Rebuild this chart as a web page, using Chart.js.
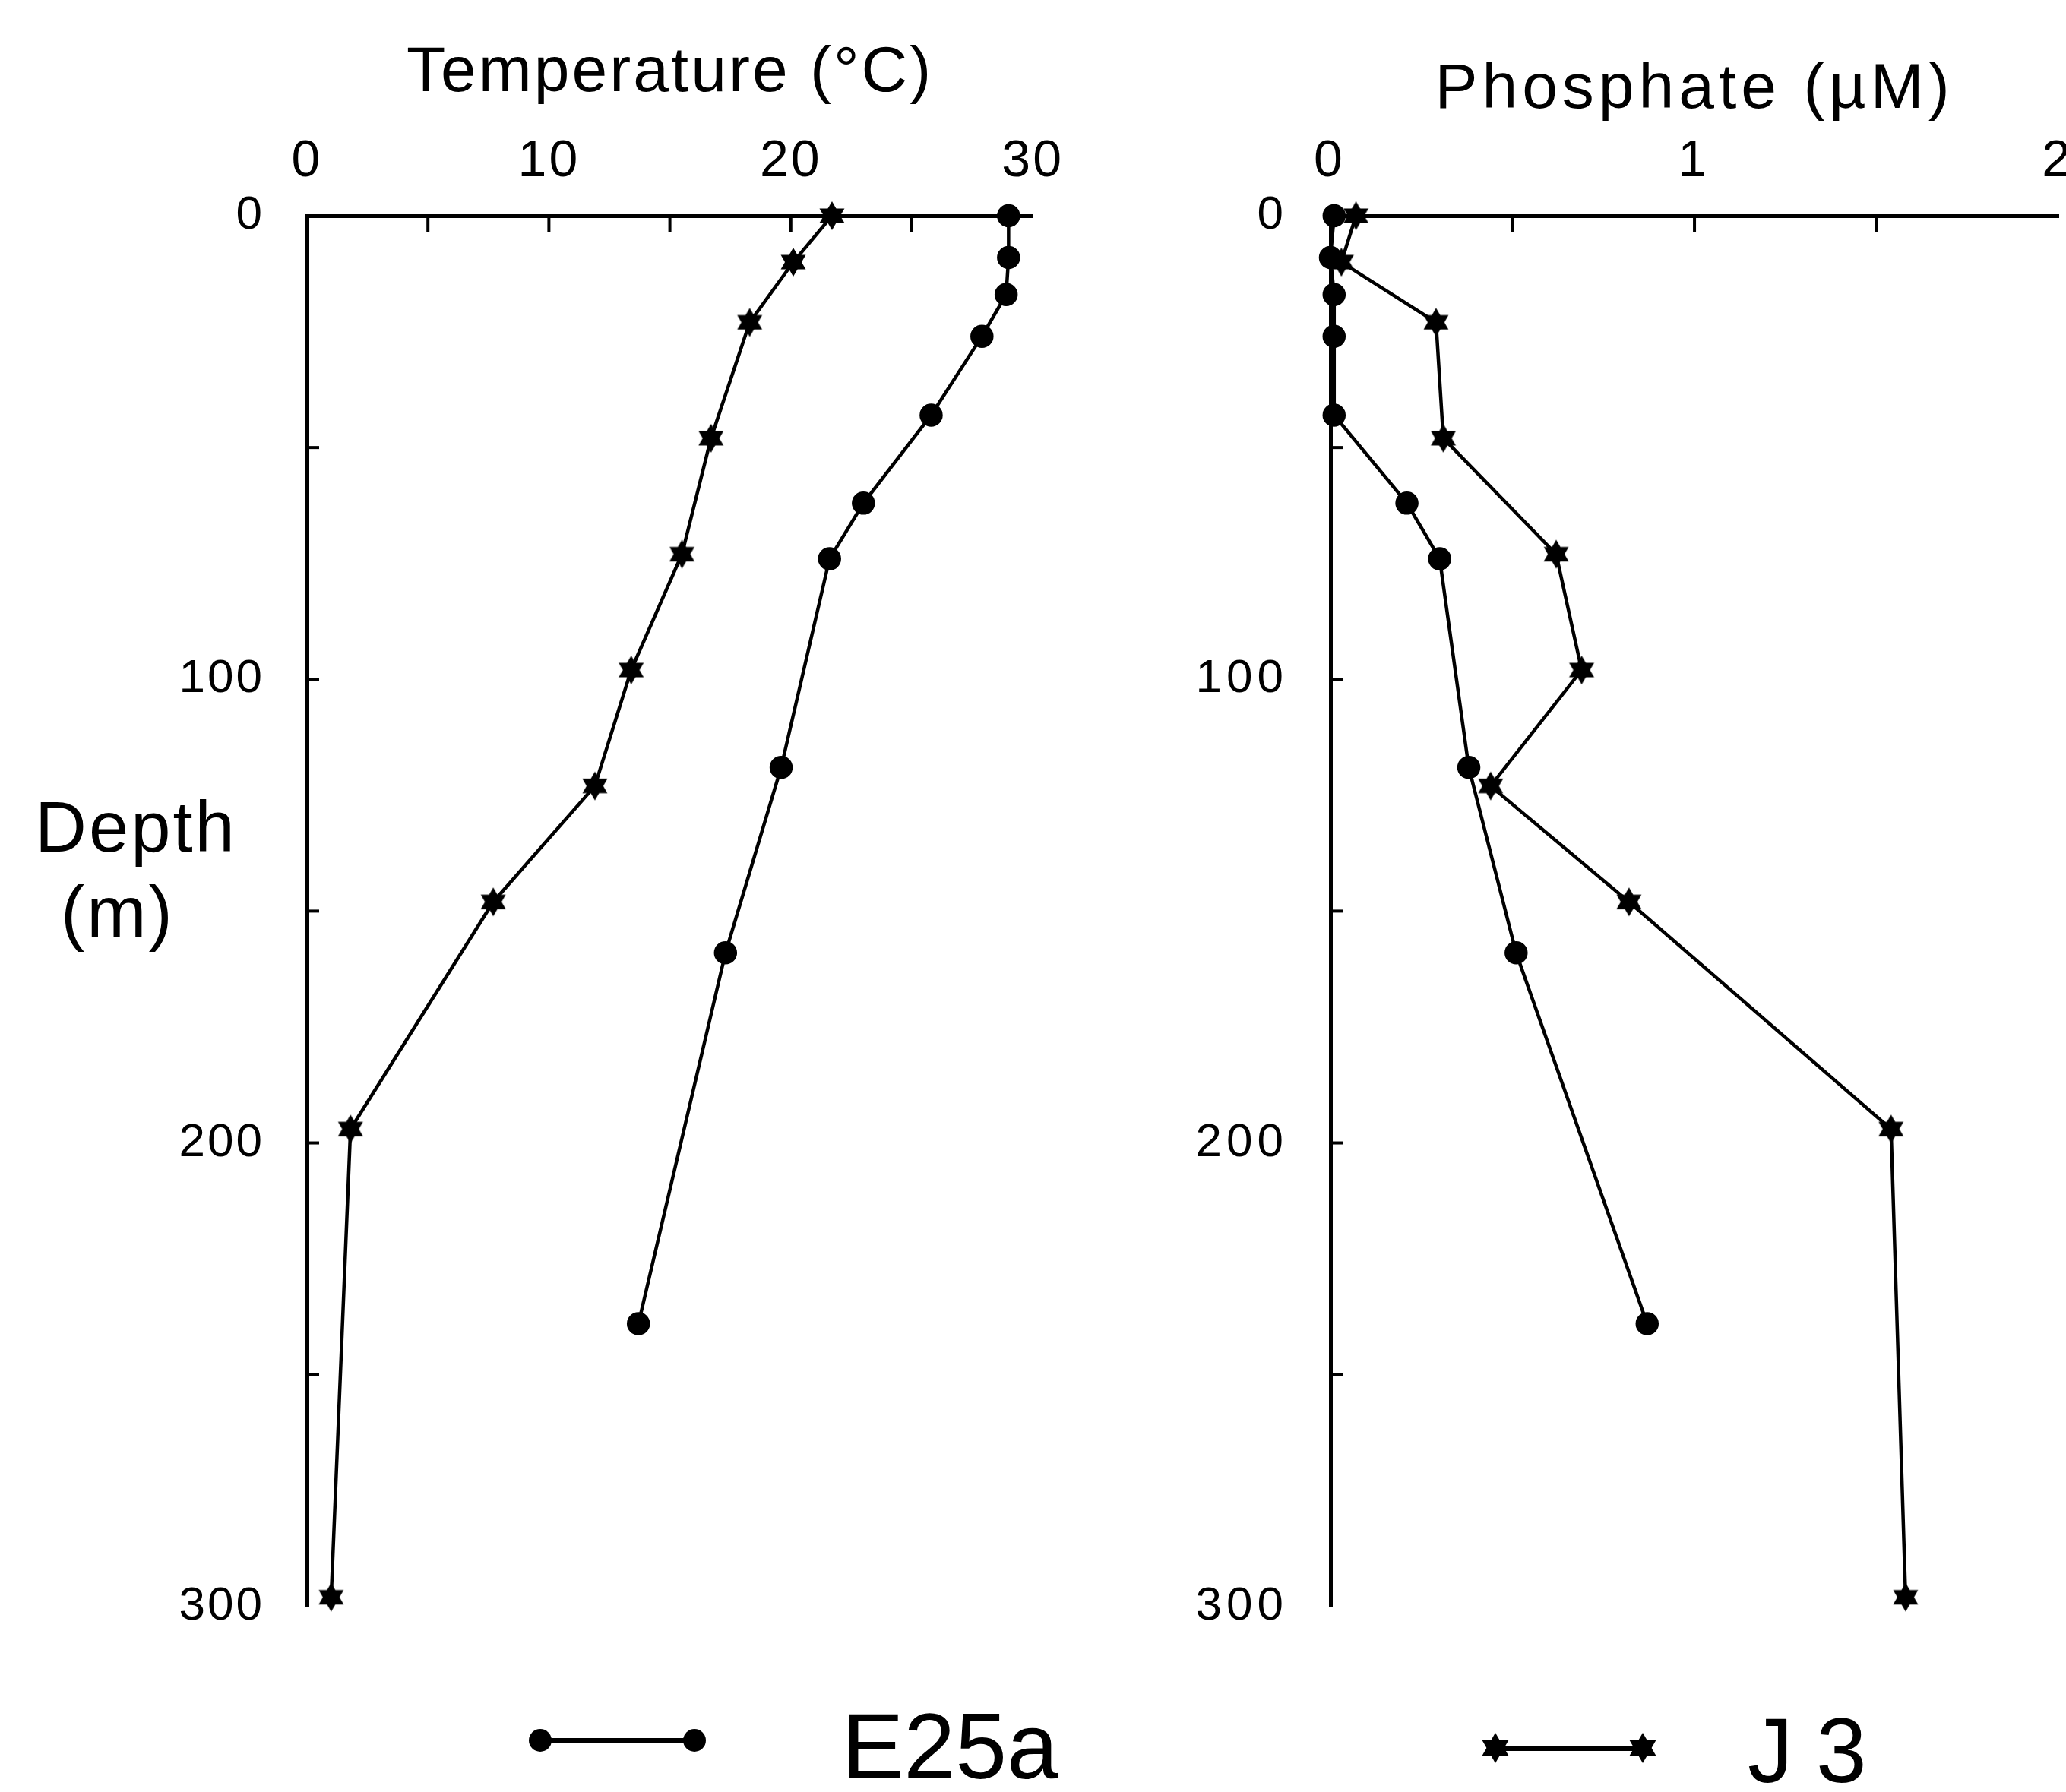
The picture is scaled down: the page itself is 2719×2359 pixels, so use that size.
<!DOCTYPE html>
<html>
<head>
<meta charset="utf-8">
<script src="https://cdn.jsdelivr.net/npm/chart.js@4.4.0/dist/chart.umd.min.js"></script>
<style>
    html, body {
        margin: 0;
        padding: 0;
        background: #fff;
        overflow: hidden;
        width: 2719px;
        height: 2359px;
        position: relative;
        font-family: "Liberation Sans", Arial, sans-serif;
        color: #000;
    }
    canvas {
        position: absolute;
        top: 0;
    }
    .lbl {
        position: absolute;
        white-space: nowrap;
        line-height: 1;
    }
    .leg-line {
        position: absolute;
        height: 7px;
        background: #000;
    }
    .leg-dot {
        position: absolute;
        width: 30px;
        height: 30px;
        border-radius: 50%;
        background: #000;
    }
    .leg-star {
        position: absolute;
    }
</style>
</head>
<body>
<canvas id="tempChart" width="1427" height="2208" style="left:0px"></canvas>
<canvas id="phosChart" width="1458" height="2208" style="left:1300px"></canvas>

<div class="lbl" style="left:46px; top:1042px; font-size:94px; letter-spacing:3px;">Depth</div>
<div class="lbl" style="left:80px; top:1154px; font-size:94px; letter-spacing:3px;">(m)</div>

<div class="leg-line" style="left:711px; top:2288px; width:203px;"></div>
<div class="leg-dot" style="left:696px; top:2276px;"></div>
<div class="leg-dot" style="left:899px; top:2276px;"></div>
<div class="lbl" style="left:1108px; top:2238px; font-size:122px;">E25a</div>

<div class="leg-line" style="left:1968px; top:2298px; width:194px;"></div>
<img class="leg-star" id="legStar1" style="left:1947px; top:2280px;">
<img class="leg-star" id="legStar2" style="left:2141px; top:2280px;">
<div class="lbl" style="left:2300px; top:2244px; font-size:120px; letter-spacing:30px;">J3</div>

<script>
// depths (m) shared by each station's temperature and phosphate casts
const e25aDepth = [0, 9, 17, 26, 43, 62, 74, 119, 159, 239];
const e25aTemp = [29.0, 29.0, 28.9, 27.9, 25.8, 23.0, 21.6, 19.6, 17.3, 13.7];
const e25aPhos = [0.01, 0.0, 0.01, 0.01, 0.01, 0.21, 0.30, 0.38, 0.51, 0.87];

const j3Depth = [0, 10, 23, 48, 73, 98, 123, 148, 197, 298];
const j3Temp = [21.7, 20.1, 18.3, 16.7, 15.5, 13.4, 11.9, 7.7, 1.8, 1.0];
const j3Phos = [0.07, 0.03, 0.29, 0.31, 0.62, 0.69, 0.44, 0.82, 1.54, 1.58];

const depthTicks = [0, 100, 200, 300];
const tempTicks = [0, 10, 20, 30];
const phosTicks = [0, 1, 2];

function toPoints(values, depths) {
    return values.map((v, i) => ({ x: v, y: depths[i] }));
}

function makeStar(r) {
    const c = document.createElement("canvas");
    c.width = r * 2 + 2;
    c.height = r * 2 + 2;
    const g = c.getContext("2d");
    g.fillStyle = "#000";
    const cx = r + 1;
    const cy = r + 1;
    for (const rot of [-Math.PI / 2, Math.PI / 2]) {
        g.beginPath();
        for (let k = 0; k < 3; k++) {
            const a = rot + k * 2 * Math.PI / 3;
            const px = cx + r * Math.cos(a);
            const py = cy + r * Math.sin(a);
            if (k === 0) {
                g.moveTo(px, py);
            } else {
                g.lineTo(px, py);
            }
        }
        g.closePath();
        g.fill();
    }
    return c;
}

// tick marks in the reference point into the plot, so draw them by hand
const innerTicks = {
    id: "innerTicks",
    beforeDraw(chart, args, opts) {
        chart.ctx.letterSpacing = opts.spacing || "0px";
    },
    afterDraw(chart) {
        const ctx = chart.ctx;
        const xs = chart.scales.x;
        const ys = chart.scales.y;
        ctx.save();
        ctx.strokeStyle = "#000";
        ctx.lineWidth = 4;
        xs.ticks.forEach((t) => {
            if (t.value === xs.min || t.value === xs.max) return;
            const px = xs.getPixelForValue(t.value);
            ctx.beginPath();
            ctx.moveTo(px, xs.bottom);
            ctx.lineTo(px, xs.bottom + 22);
            ctx.stroke();
        });
        ys.ticks.forEach((t) => {
            if (t.value === ys.min || t.value === ys.max) return;
            const py = ys.getPixelForValue(t.value);
            ctx.beginPath();
            ctx.moveTo(ys.right, py);
            ctx.lineTo(ys.right + 16, py);
            ctx.stroke();
        });
        ctx.restore();
    },
};

function makeChart(el, opts) {
    const star = makeStar(19);
    return new Chart(el, {
        type: "scatter",
        data: {
            datasets: [
                {
                    label: "E25a",
                    data: opts.e25a,
                    showLine: true,
                    borderColor: "#000",
                    backgroundColor: "#000",
                    borderWidth: 4.5,
                    pointRadius: 13,
                    pointStyle: "circle",
                    clip: false,
                },
                {
                    label: "J3",
                    data: opts.j3,
                    showLine: true,
                    borderColor: "#000",
                    backgroundColor: "#000",
                    borderWidth: 4.5,
                    pointStyle: star,
                    clip: false,
                },
            ],
        },
        options: {
            responsive: false,
            animation: false,
            devicePixelRatio: 1,
            layout: {
                padding: { left: 0, top: 0, right: opts.padRight, bottom: 55 },
            },
            plugins: {
                legend: { display: false },
                tooltip: { enabled: false },
                innerTicks: { spacing: opts.spacing },
            },
            scales: {
                x: {
                    type: "linear",
                    position: "top",
                    min: opts.xMin,
                    max: opts.xMax,
                    afterFit: (s) => { s.height = 284; },
                    border: { display: true, color: "#000", width: 5 },
                    grid: { display: false, drawTicks: false },
                    ticks: {
                        stepSize: opts.xStep,
                        padding: 30,
                        color: "#000",
                        font: { family: "Liberation Sans", size: 68 },
                        callback: (v) => opts.xLabels.includes(v) ? String(v) : "",
                    },
                    title: {
                        display: true,
                        text: opts.title,
                        color: "#000",
                        font: { family: "Liberation Sans", size: 84 },
                        padding: { top: opts.titleTop, bottom: 0 },
                    },
                },
                y: {
                    type: "linear",
                    position: "left",
                    reverse: true,
                    min: 0,
                    max: 300,
                    afterFit: (s) => { s.width = opts.yWidth; },
                    border: { display: true, color: "#000", width: 5 },
                    grid: { display: false, drawTicks: false },
                    ticks: {
                        stepSize: 50,
                        padding: 56,
                        color: "#000",
                        font: { family: "Liberation Sans", size: 62 },
                        callback: (v) => depthTicks.includes(v) ? String(v) : "",
                    },
                },
            },
        },
        plugins: [innerTicks],
    });
}

function main() {
    const legStar = makeStar(20).toDataURL();
    document.getElementById("legStar1").src = legStar;
    document.getElementById("legStar2").src = legStar;

    makeChart(document.getElementById("tempChart"), {
        e25a: toPoints(e25aTemp, e25aDepth),
        j3: toPoints(j3Temp, j3Depth),
        xMin: 0,
        xMax: 30,
        xStep: 5,
        xLabels: tempTicks,
        title: "Temperature (°C)",
        titleTop: 46,
        yWidth: 404,
        padRight: 38,
        spacing: "3px",
    });

    makeChart(document.getElementById("phosChart"), {
        e25a: toPoints(e25aPhos, e25aDepth),
        j3: toPoints(j3Phos, j3Depth),
        xMin: 0,
        xMax: 2,
        xStep: 0.5,
        xLabels: phosTicks,
        title: "Phosphate (µM)",
        titleTop: 68,
        yWidth: 451,
        padRight: 41,
        spacing: "6px",
    });
}

main();
</script>
</body>
</html>
